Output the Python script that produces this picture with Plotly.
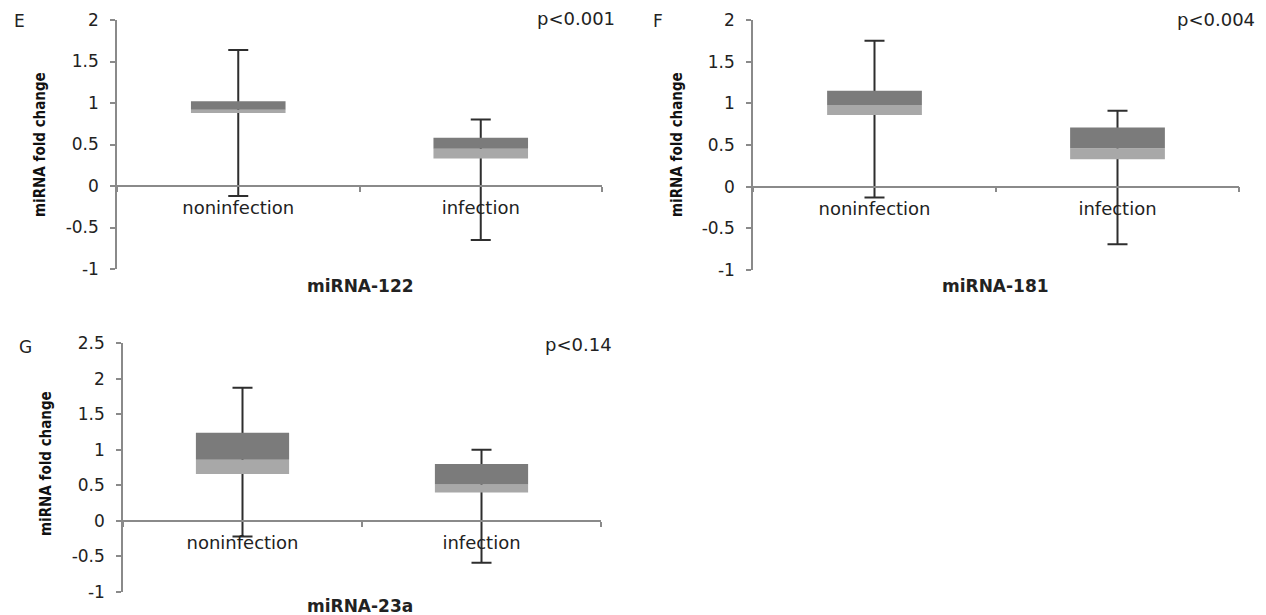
import plotly.graph_objects as go

# the page body has an 8px margin: the figure starts at page pixel (8, 8)
OFF = 8
W, H = 1266 - OFF, 615 - OFF

categories = ["noninfection", "infection"]
panel_letters = ["E", "F", "G"]
titles = ["miRNA-122", "miRNA-181", "miRNA-23a"]
pvalues = ["p<0.001", "p<0.004", "p<0.14"]

# five-number style summaries (whisker min, Q1, median, Q3, whisker max)
e_min = [-0.12, -0.65]
e_q1 = [0.88, 0.33]
e_med = [0.92, 0.45]
e_q3 = [1.02, 0.58]
e_max = [1.64, 0.80]

f_min = [-0.13, -0.69]
f_q1 = [0.86, 0.33]
f_med = [0.98, 0.46]
f_q3 = [1.15, 0.71]
f_max = [1.75, 0.91]

g_min = [-0.22, -0.59]
g_q1 = [0.66, 0.40]
g_med = [0.86, 0.51]
g_q3 = [1.24, 0.80]
g_max = [1.87, 1.00]

y_ranges = [(-1, 2), (-1, 2), (-1, 2.5)]
ytick_vals_ef = [-1, -0.5, 0, 0.5, 1, 1.5, 2]
ytick_vals_g = [-1, -0.5, 0, 0.5, 1, 1.5, 2, 2.5]
ytick_sets = [ytick_vals_ef, ytick_vals_ef, ytick_vals_g]

data_sets = [
    (e_min, e_q1, e_med, e_q3, e_max),
    (f_min, f_q1, f_med, f_q3, f_max),
    (g_min, g_q1, g_med, g_q3, g_max),
]

# page-pixel boxes of each plot area: (left, right, top, bottom)
px_boxes = [(117, 602, 20, 269), (753, 1239, 20, 270), (123, 601, 343, 592)]

DARK = "#7b7b7b"
LIGHT = "#a8a8a8"
AXIS = "#8a8a8a"
WHISK = "#2e2e2e"
FONT = "DejaVu Sans"


def fx(px):
    return (px - OFF) / W


def fy(py):
    return 1 - (py - OFF) / H


def fmt(v):
    return ("%g" % v)


fig = go.Figure()
layout = {}
for i, ((mn, q1, md, q3, mx), (y0, y1), (l, r, t, b), tv) in enumerate(
        zip(data_sets, y_ranges, px_boxes, ytick_sets)):
    k = "" if i == 0 else str(i + 1)
    xa, ya = "x" + k, "y" + k
    xdom = [fx(l), fx(r)]
    ydom = [fy(b), fy(t)]
    pos = ydom[0] + (ydom[1] - ydom[0]) * (0 - y0) / (y1 - y0)
    bw = 0.39

    fig.add_trace(go.Bar(
        x=categories, y=[0, 0], base=md, width=bw,
        marker=dict(color="rgba(0,0,0,0)", line=dict(width=0)),
        error_y=dict(type="data", symmetric=False,
                     array=[a - m for a, m in zip(mx, md)],
                     arrayminus=[m - a for a, m in zip(mn, md)],
                     color=WHISK, thickness=2, width=10),
        xaxis=xa, yaxis=ya, showlegend=False, hoverinfo="skip"))
    fig.add_trace(go.Bar(
        x=categories, y=[m - a for a, m in zip(q1, md)], base=q1, width=bw,
        marker=dict(color=LIGHT, line=dict(width=0)),
        xaxis=xa, yaxis=ya, showlegend=False))
    fig.add_trace(go.Bar(
        x=categories, y=[a - m for a, m in zip(q3, md)], base=md, width=bw,
        marker=dict(color=DARK, line=dict(width=0)),
        xaxis=xa, yaxis=ya, showlegend=False))

    layout["xaxis" + k] = dict(
        domain=xdom, anchor="free", position=pos, type="category", automargin=False,
        range=[-0.5, 1.5], tickson="boundaries", ticks="outside", ticklen=5,
        tickcolor=AXIS, tickwidth=1.5, showline=True, linecolor=AXIS, linewidth=1.5,
        showgrid=False, zeroline=False, ticklabelstandoff=6,
        tickfont=dict(family=FONT, size=18, color="#222"))
    layout["yaxis" + k] = dict(
        domain=ydom, anchor=xa, range=[y0, y1], automargin=False,
        tickmode="array", tickvals=tv, ticktext=[fmt(v) for v in tv],
        ticks="outside", ticklen=5, tickcolor=AXIS, tickwidth=1.5,
        showline=True, linecolor=AXIS, linewidth=1.5, showgrid=False,
        zeroline=False, ticklabelstandoff=8,
        tickfont=dict(family=FONT, size=17, color="#222"))

annotations = []


def ann(text, px, py, size=15, bold=False):
    annotations.append(dict(
        text=("<b>%s</b>" % text) if bold else text, x=fx(px), y=fy(py),
        xref="paper", yref="paper", showarrow=False, xanchor="center", yanchor="middle",
        font=dict(family=FONT, size=size, color="#222")))


letter_pos = [(19, 21), (658, 21), (25, 347)]
title_pos = [(360, 286), (995, 286), (360, 606)]
p_pos = [(576, 18), (1216, 20), (578, 345)]
ylab_pos = [(40, 145), (677, 145), (46, 464)]
for i in range(3):
    ann(panel_letters[i], *letter_pos[i], size=17)
    ann(titles[i], *title_pos[i], size=17, bold=True)
    ann(pvalues[i], *p_pos[i], size=18)
    annotations.append(dict(
        text="<b>miRNA fold change</b>", x=fx(ylab_pos[i][0]), y=fy(ylab_pos[i][1]),
        xref="paper", yref="paper", showarrow=False, xanchor="center", yanchor="middle",
        textangle=-90, font=dict(family="Liberation Sans Narrow, DejaVu Sans Condensed, sans-serif",
                                 size=15, color="#111")))

fig.update_layout(
    width=W, height=H, margin=dict(l=0, r=0, t=0, b=0, autoexpand=False),
    paper_bgcolor="white", plot_bgcolor="white", barmode="overlay",
    annotations=annotations, **layout)

fig.write_html("out.html")
